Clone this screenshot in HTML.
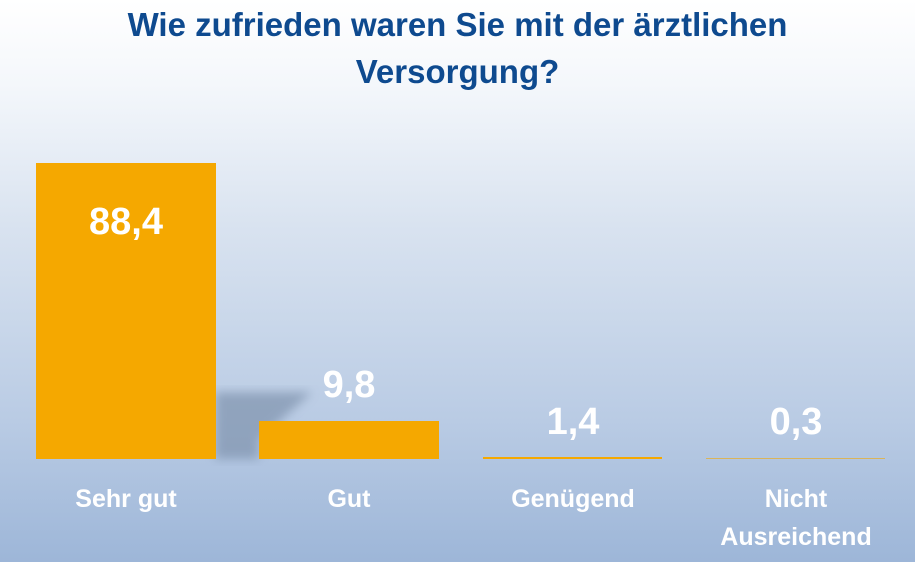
<!DOCTYPE html>
<html><head><meta charset="utf-8"><style>
html,body{margin:0;padding:0}
body{width:915px;height:562px;position:relative;overflow:hidden;background:linear-gradient(to bottom,#ffffff 0%,#f4f7fb 15%,#d9e3f0 40%,#b9cbe4 75%,#9db6d8 100%);font-family:"Liberation Sans",sans-serif;font-weight:bold}
.t{position:absolute;left:0;width:915px;text-align:center;color:#0e4a8f;font-size:33px;line-height:47px;top:1px}
.bar{position:absolute;background:#f5a800}
.v{position:absolute;color:#fff;font-size:38px;text-align:center;width:180px}
.c{position:absolute;color:#fff;font-size:25px;text-align:center;width:180px;line-height:38px}
</style></head><body>
<div class="t">Wie zufrieden waren Sie mit der ärztlichen<br>Versorgung?</div>
<svg style="position:absolute;left:0;top:0" width="915" height="562">
<defs><filter id="b"><feGaussianBlur stdDeviation="5"/></filter></defs>
<polygon points="215,392 312,392 259,440 259,459 215,459" fill="#7f93ad" opacity="0.7" filter="url(#b)"/>
</svg>
<div class="bar" style="left:36px;top:163px;width:180px;height:296px"></div>
<div class="bar" style="left:259px;top:421px;width:180px;height:38px"></div>
<div class="bar" style="left:483px;top:457px;width:179px;height:2px"></div>
<div class="bar" style="left:706px;top:458px;width:179px;height:1px;opacity:.6"></div>
<div class="v" style="left:36px;top:201px">88,4</div>
<div class="v" style="left:259px;top:364px">9,8</div>
<div class="v" style="left:483px;top:401px">1,4</div>
<div class="v" style="left:706px;top:401px">0,3</div>
<div class="c" style="left:36px;top:480px">Sehr gut</div>
<div class="c" style="left:259px;top:480px">Gut</div>
<div class="c" style="left:483px;top:480px">Genügend</div>
<div class="c" style="left:706px;top:480px">Nicht<br>Ausreichend</div>
</body></html>
